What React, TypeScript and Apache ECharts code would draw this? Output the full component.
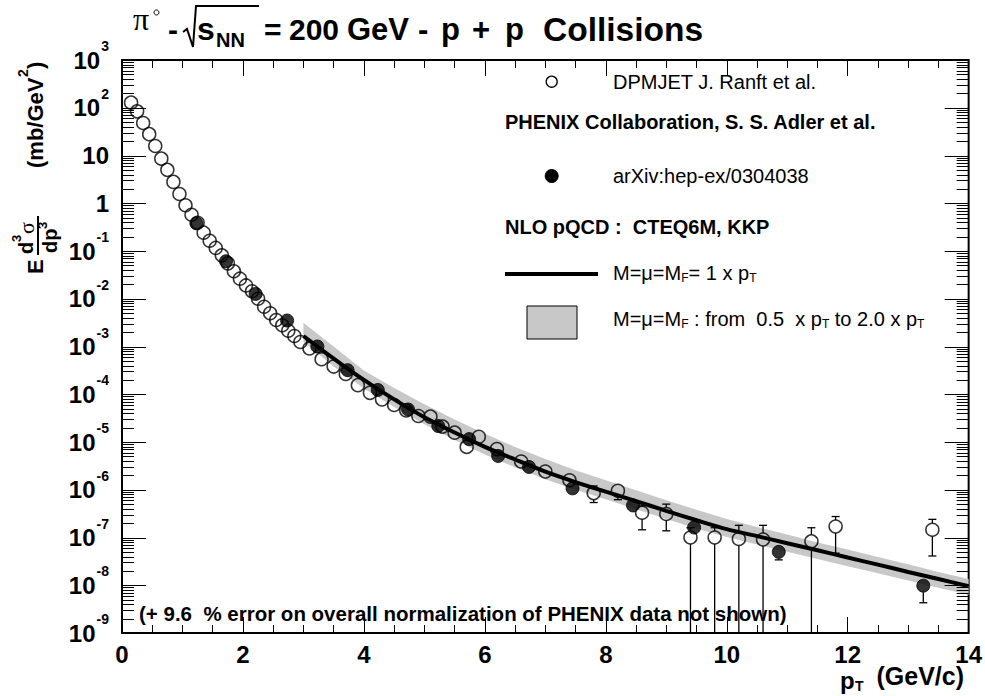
import React, { useEffect, useRef } from "react";
import * as echarts from "echarts";

const FONT = "'Liberation Sans', Arial, Helvetica, sans-serif";
const SERIF = "'Liberation Serif', 'DejaVu Serif', serif";

// DPMJET (open circles)
const dpmjetPt = [
  0.15, 0.25, 0.35, 0.45, 0.55, 0.65, 0.75, 0.85, 0.95, 1.05, 1.15, 1.25, 1.35, 1.45, 1.55,
  1.65, 1.75, 1.85, 1.95, 2.05, 2.15, 2.25, 2.35, 2.45, 2.55, 2.65, 2.75, 2.85, 2.95,
  3.1, 3.3, 3.5, 3.7, 3.9, 4.1, 4.3, 4.5, 4.7, 4.9, 5.1, 5.3, 5.5,
  5.7, 5.9, 6.2, 6.6, 7.0, 7.4, 7.8, 8.2, 8.6, 9.0, 9.4, 9.8, 10.2, 10.6, 11.4, 11.8, 13.4,
];
const dpmjetVal = [
  128, 84, 48, 28, 15.8, 8.6, 5.0, 2.8, 1.56, 0.91, 0.575, 0.39, 0.242, 0.164, 0.116,
  0.081, 0.055, 0.0376, 0.0263, 0.019, 0.0143, 0.01, 0.0068, 0.00495, 0.00359, 0.00278, 0.00214, 0.00166, 0.00124,
  9.1e-4, 5.4e-4, 3.8e-4, 2.65e-4, 1.55e-4, 1.07e-4, 7.8e-5, 5.96e-5, 4.57e-5, 3.5e-5, 3.4e-5, 2.1e-5, 1.57e-5,
  7.9e-6, 1.29e-5, 7.1e-6, 3.9e-6, 2.4e-6, 1.58e-6, 8.5e-7, 9.5e-7, 3.3e-7, 3.1e-7, 1.0e-7, 1.0e-7, 9.3e-8, 9.1e-8, 8.3e-8, 1.7e-7, 1.45e-7,
];
const dpmjetErrPt = [7.8, 8.2, 8.6, 9.0, 9.4, 9.8, 10.2, 10.6, 11.4, 11.8, 13.4];
const dpmjetErrLo = [5.4e-7, 6.2e-7, 1.45e-7, 1.38e-7, 1e-9, 1e-9, 1e-9, 1e-9, 1e-9, 4.7e-8, 4.1e-8];
const dpmjetErrHi = [1.2e-6, 1.26e-6, 4.6e-7, 5.0e-7, 1.6e-7, 1.6e-7, 1.8e-7, 1.8e-7, 1.6e-7, 2.75e-7, 2.4e-7];

// PHENIX (filled circles)
const phenixPt = [1.23, 1.72, 2.21, 2.73, 3.23, 3.73, 4.23, 4.73, 5.23, 5.74, 6.22, 6.73, 7.45, 8.45, 9.46, 10.86, 13.25];
const phenixVal = [0.38, 0.061, 0.0126, 0.0035, 1.0e-3, 3.2e-4, 1.23e-4, 4.8e-5, 2.16e-5, 1.15e-5, 5.1e-6, 3.0e-6, 1.07e-6, 4.7e-7, 1.62e-7, 5.0e-8, 9.8e-9];
const phenixErrPt = [10.86, 13.25];
const phenixErrLo = [3.4e-8, 4.3e-9];
const phenixErrHi = [6.5e-8, 1.3e-8];

// NLO pQCD curve and scale band
const nloPt = [3.0, 3.5, 4.0, 4.5, 5.0, 5.5, 6.0, 6.5, 7.0, 7.5, 8.0, 8.5, 9.0, 9.5, 10.0, 10.5, 11.0, 11.5, 12.0, 12.5, 13.0, 13.5, 14.0];
const nloVal = [1.66e-3, 5.6e-4, 2.0e-4, 7.8e-5, 3.3e-5, 1.58e-5, 7.9e-6, 4.3e-6, 2.4e-6, 1.45e-6, 9.1e-7, 5.8e-7, 3.6e-7, 2.3e-7, 1.5e-7, 1.07e-7, 7.6e-8, 5.4e-8, 3.8e-8, 2.7e-8, 1.9e-8, 1.35e-8, 9.5e-9];
const bandHi = [3.16e-3, 1.0e-3, 3.16e-4, 1.35e-4, 6.2e-5, 2.95e-5, 1.48e-5, 7.9e-6, 4.4e-6, 2.57e-6, 1.58e-6, 9.8e-7, 6.0e-7, 3.8e-7, 2.45e-7, 1.66e-7, 1.15e-7, 7.9e-8, 5.6e-8, 3.9e-8, 2.75e-8, 1.9e-8, 1.35e-8];
const bandLo = [1.26e-3, 3.8e-4, 1.32e-4, 5.4e-5, 2.34e-5, 1.1e-5, 5.5e-6, 2.95e-6, 1.66e-6, 1.0e-6, 6.3e-7, 3.9e-7, 2.45e-7, 1.55e-7, 1.02e-7, 7.1e-8, 5.0e-8, 3.55e-8, 2.5e-8, 1.78e-8, 1.26e-8, 8.9e-9, 6.3e-9];

const X_MIN = 0;
const X_MAX = 14;
const X_STEP = 2;
const Y_MIN = 1e-9;
const Y_MAX = 1e3;

const MARK_R = 6.5;

function errRows(pts: number[], lo: number[], hi: number[], xs: number[], vals: number[]) {
  return pts.map((p, i) => {
    const k = xs.indexOf(p);
    return [p, vals[k], lo[i], hi[i]];
  });
}

function yTickRows() {
  const rows: number[][] = [];
  for (let d = Math.log10(Y_MIN); d < Math.log10(Y_MAX); d++) {
    for (let m = 1; m <= 9; m++) rows.push([0, m * Math.pow(10, d)]);
  }
  rows.push([0, Y_MAX]);
  return rows;
}

const tx = (text: string, x: number, y: number, font: string, extra: any = {}) => ({
  type: "text",
  x,
  y,
  z: 100,
  style: { text, font, fill: "#000", align: "left", verticalAlign: "middle", ...extra },
});

export default function App() {
  const ref = useRef<HTMLDivElement>(null);
  useEffect(() => {
    if (!ref.current) return;
    const chart = echarts.init(ref.current, undefined, { renderer: "svg" });

    const errSeries = (rows: number[][], z: number) => ({
      type: "custom",
      z,
      clip: true,
      data: rows,
      encode: { x: 0, y: 1 },
      renderItem: (params: any, api: any) => {
        const x = api.value(0);
        const c = api.coord([x, api.value(1)]);
        const lo = api.coord([x, api.value(2)]);
        const hi = api.coord([x, api.value(3)]);
        const cs = params.coordSys;
        const bottom = cs.y + cs.height;
        const children: any[] = [];
        const st = { stroke: "#000", lineWidth: 1.3 };
        if (hi[1] < c[1] - MARK_R) {
          children.push({ type: "line", shape: { x1: c[0], y1: hi[1], x2: c[0], y2: c[1] - MARK_R }, style: st });
          children.push({ type: "line", shape: { x1: c[0] - 4, y1: hi[1], x2: c[0] + 4, y2: hi[1] }, style: st });
        }
        if (lo[1] > c[1] + MARK_R) {
          const yb = Math.min(lo[1], bottom);
          children.push({ type: "line", shape: { x1: c[0], y1: c[1] + MARK_R, x2: c[0], y2: yb }, style: st });
          if (lo[1] < bottom - 1)
            children.push({ type: "line", shape: { x1: c[0] - 4, y1: lo[1], x2: c[0] + 4, y2: lo[1] }, style: st });
        }
        return { type: "group", children };
      },
    });

    const xAxisCommon = {
      type: "value",
      min: X_MIN,
      max: X_MAX,
      interval: X_STEP,
      axisLine: { show: false },
      splitLine: { show: false },
      axisTick: { show: true, inside: true, length: 16, lineStyle: { color: "#000", width: 1 } },
      minorTick: { show: true, splitNumber: 4, length: 8, lineStyle: { color: "#000", width: 1 } },
    };

    const option: any = {
      animation: false,
      backgroundColor: "#fff",
      textStyle: { fontFamily: FONT },
      grid: {
        left: 122,
        top: 60,
        width: 847,
        height: 573,
        show: true,
        borderColor: "#000",
        borderWidth: 2,
        backgroundColor: "transparent",
      },
      xAxis: [
        {
          ...xAxisCommon,
          position: "bottom",
          axisLabel: {
            show: true,
            margin: 9,
            color: "#000",
            fontSize: 24,
            fontWeight: "bold",
            fontFamily: FONT,
          },
        },
        { ...xAxisCommon, position: "top", axisLabel: { show: false } },
      ],
      yAxis: {
        type: "log",
        logBase: 10,
        min: Y_MIN,
        max: Y_MAX,
        interval: 1,
        axisLine: { show: false },
        axisTick: { show: false },
        splitLine: { show: false },
        minorTick: { show: false },
        axisLabel: {
          show: true,
          margin: 13,
          color: "#000",
          formatter: (v: number) => {
            const e = Math.round(Math.log10(v));
            if (e === 0) return "{b|1}";
            if (e === 1) return "{b|10}";
            return "{b|10}{e|" + e + "}";
          },
          rich: {
            b: { fontSize: 24, fontWeight: "bold", fontFamily: FONT, color: "#000" },
            e: { fontSize: 14, fontWeight: "bold", fontFamily: FONT, color: "#000", padding: [0, 0, 28, 1] },
          },
        },
      },
      series: [
        {
          type: "custom",
          z: 1,
          clip: true,
          data: nloPt.map((x, i) => [x, nloVal[i]]),
          encode: { x: 0, y: 1 },
          renderItem: (params: any, api: any) => {
            if (params.dataIndex !== 0) return null;
            const pts: number[][] = [];
            for (let i = 0; i < nloPt.length; i++) pts.push(api.coord([nloPt[i], bandHi[i]]));
            for (let i = nloPt.length - 1; i >= 0; i--) pts.push(api.coord([nloPt[i], bandLo[i]]));
            return { type: "polygon", shape: { points: pts }, style: { fill: "#c8c8c8", stroke: "none" } };
          },
        },
        {
          type: "line",
          z: 2,
          data: nloPt.map((x, i) => [x, nloVal[i]]),
          showSymbol: false,
          smooth: 0.3,
          lineStyle: { color: "#000", width: 4 },
          clip: true,
        },
        {
          type: "custom",
          z: 3,
          data: yTickRows(),
          encode: { x: 0, y: 1 },
          renderItem: (params: any, api: any) => {
            const v = api.value(1);
            const p = api.coord([0, v]);
            const cs = params.coordSys;
            const lg = Math.log10(v);
            const major = Math.abs(lg - Math.round(lg)) < 1e-6;
            const len = major ? 24 : 12;
            const y = Math.round(p[1]) + 0.5;
            const st = { stroke: "#000", lineWidth: 1 };
            return {
              type: "group",
              children: [
                { type: "line", shape: { x1: cs.x, y1: y, x2: cs.x + len, y2: y }, style: st },
                { type: "line", shape: { x1: cs.x + cs.width, y1: y, x2: cs.x + cs.width - len, y2: y }, style: st },
              ],
            };
          },
        },
        errSeries(errRows(dpmjetErrPt, dpmjetErrLo, dpmjetErrHi, dpmjetPt, dpmjetVal), 4),
        errSeries(errRows(phenixErrPt, phenixErrLo, phenixErrHi, phenixPt, phenixVal), 4),
        {
          type: "scatter",
          z: 5,
          data: dpmjetPt.map((x, i) => [x, dpmjetVal[i]]),
          symbol: "circle",
          symbolSize: MARK_R * 2,
          itemStyle: { color: "rgba(0,0,0,0)", borderColor: "#000", borderWidth: 1.5 },
        },
        {
          type: "scatter",
          z: 6,
          data: phenixPt.map((x, i) => [x, phenixVal[i]]),
          symbol: "circle",
          symbolSize: MARK_R * 2,
          itemStyle: { color: "#000", borderColor: "#000", borderWidth: 1 },
        },
      ],
      graphic: [
        // Title
        tx("π", 133, 19, `32px ${SERIF}`),
        { type: "circle", z: 100, shape: { cx: 156.5, cy: 12.5, r: 2.5 }, style: { fill: "none", stroke: "#000", lineWidth: 1 } },
        tx("-", 168, 29, `bold 30px ${FONT}`),
        {
          type: "polyline",
          z: 100,
          shape: { points: [[183, 32], [187, 29], [193, 47], [196, 6], [259, 6]] },
          style: { stroke: "#000", lineWidth: 2, fill: "none" },
        },
        tx("s", 197, 29, `bold 32px ${FONT}`),
        tx("NN", 216, 40, `bold 20px ${FONT}`),
        tx("=", 264, 29, `bold 30px ${FONT}`),
        tx("200", 289, 29, `bold 30px ${FONT}`),
        tx("GeV", 347, 29, `bold 31px ${FONT}`),
        tx("-", 418, 29, `bold 31px ${FONT}`),
        tx("p", 441, 29, `bold 31px ${FONT}`),
        tx("+", 472, 29, `bold 31px ${FONT}`),
        tx("p", 505, 29, `bold 31px ${FONT}`),
        tx("Collisions", 543, 29, `bold 33.5px ${FONT}`),
        // Legend
        { type: "circle", z: 100, shape: { cx: 551.7, cy: 81.7, r: 5.5 }, style: { fill: "#fff", stroke: "#000", lineWidth: 1.3 } },
        tx("DPMJET J. Ranft et al.", 613, 82, `20px ${FONT}`),
        tx("PHENIX Collaboration, S. S. Adler et al.", 505, 122, `bold 20px ${FONT}`),
        { type: "circle", z: 100, shape: { cx: 551.7, cy: 176, r: 6.5 }, style: { fill: "#000", stroke: "#000", lineWidth: 1 } },
        tx("arXiv:hep-ex/0304038", 613, 176, `20px ${FONT}`),
        tx("NLO pQCD :  CTEQ6M, KKP", 505, 227, `bold 20px ${FONT}`),
        { type: "line", z: 100, shape: { x1: 505, y1: 274, x2: 598, y2: 274 }, style: { stroke: "#000", lineWidth: 4 } },
        {
          type: "text",
          x: 613,
          y: 273,
          z: 100,
          style: {
            text: "{n|M=μ=M}{s|F}{n|= 1 x p}{s|T}",
            fill: "#000",
            align: "left",
            verticalAlign: "middle",
            rich: {
              n: { fontSize: 20, fontFamily: FONT, fill: "#000" },
              s: { fontSize: 12, fontFamily: FONT, fill: "#000", padding: [10, 0, 0, 0] },
            },
          },
        },
        { type: "rect", z: 100, shape: { x: 527, y: 306, width: 50, height: 33 }, style: { fill: "#c8c8c8", stroke: "#000", lineWidth: 1 } },
        {
          type: "text",
          x: 613,
          y: 319,
          z: 100,
          style: {
            text: "{n|M=μ=M}{s|F}{n| : from  0.5  x p}{s|T}{n| to 2.0 x p}{s|T}",
            fill: "#000",
            align: "left",
            verticalAlign: "middle",
            rich: {
              n: { fontSize: 20, fontFamily: FONT, fill: "#000" },
              s: { fontSize: 12, fontFamily: FONT, fill: "#000", padding: [10, 0, 0, 0] },
            },
          },
        },
        // Normalization note
        tx("(+ 9.6  % error on overall normalization of PHENIX data not shown)", 139, 613, `bold 20.5px ${FONT}`),
        // X axis title
        tx("p", 840, 680, `bold 24px ${FONT}`),
        tx("T", 855, 686, `bold 14px ${FONT}`),
        tx("(GeV/c)", 964, 676, `bold 25px ${FONT}`, { align: "right" }),
        // Y axis title (rotated)
        {
          type: "group",
          x: 38,
          y: 274,
          rotation: Math.PI / 2,
          z: 100,
          children: [
            tx("E", 0, -3, `bold 22px ${FONT}`),
            tx("d", 20, -12, `bold 20px ${FONT}`),
            tx("3", 32, -22, `bold 13px ${FONT}`),
            tx("σ", 40, -12, `22px ${SERIF}`),
            { type: "line", z: 100, shape: { x1: 19, y1: 0, x2: 58, y2: 0 }, style: { stroke: "#000", lineWidth: 2 } },
            tx("dp", 21, 12, `bold 20px ${FONT}`),
            tx("3", 45, 4, `bold 13px ${FONT}`),
            tx("(mb/GeV", 106, -3, `bold 22px ${FONT}`),
            tx("2", 197, -15, `bold 14px ${FONT}`),
            tx(")", 205, -3, `bold 22px ${FONT}`),
          ],
        },
      ],
    };

    chart.setOption(option);
    return () => chart.dispose();
  }, []);

  return <div ref={ref} style={{ position: "fixed", left: 0, top: 0, width: 985, height: 696 }} />;
}
